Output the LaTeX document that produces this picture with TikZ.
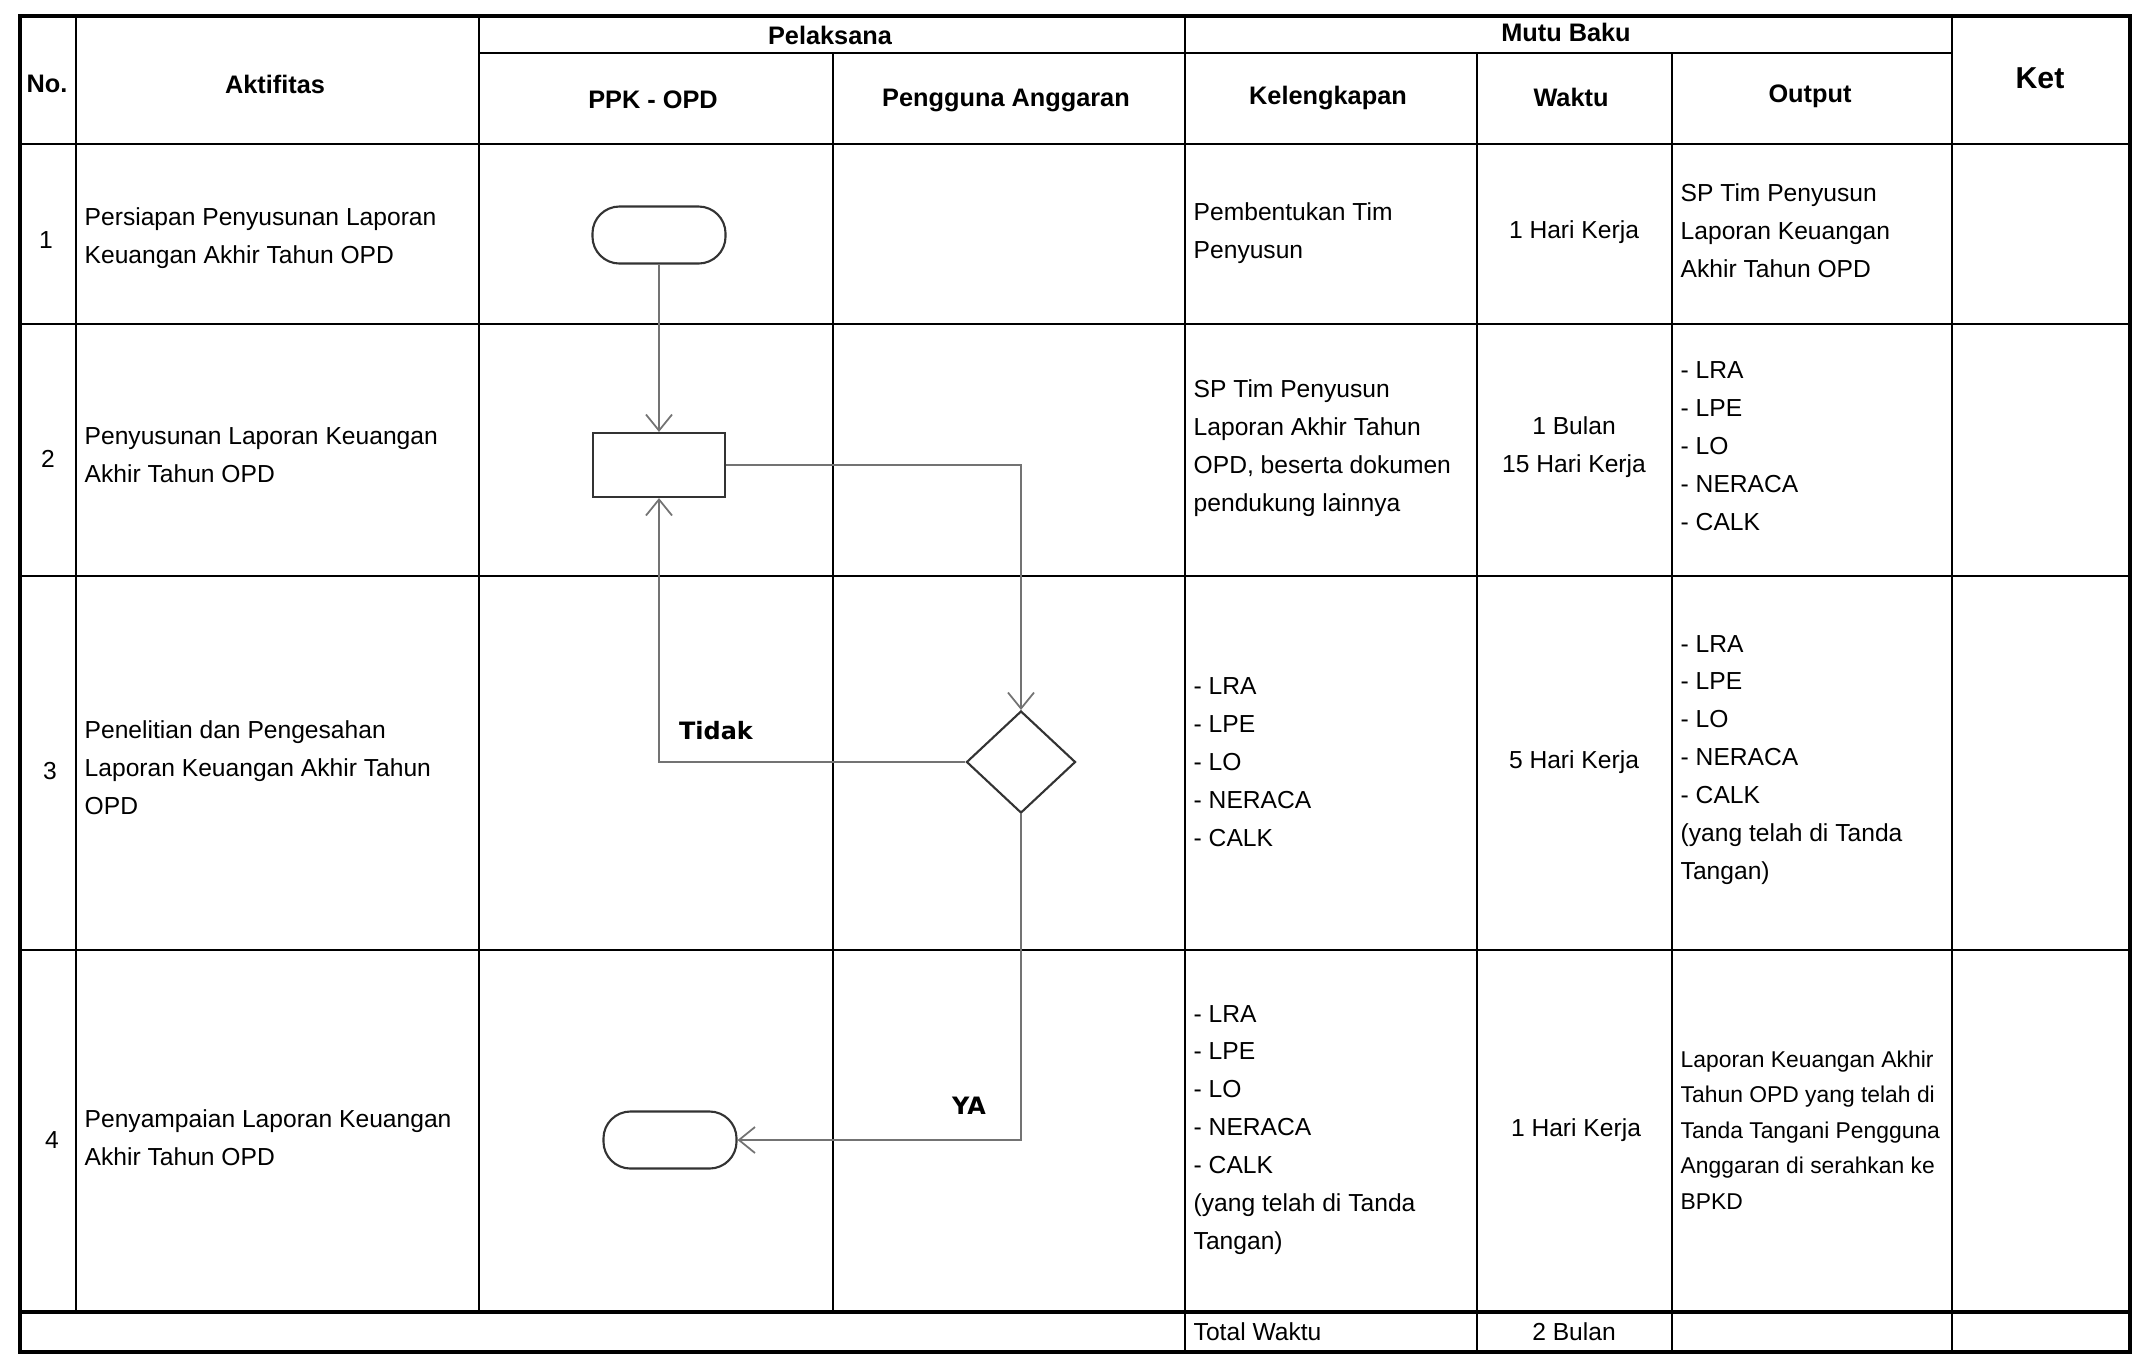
\documentclass[tikz,border=0pt]{standalone}
\usepackage{fontspec}
\setmainfont{Liberation Sans}
\newfontfamily\lblfont{DejaVu Sans}
\usetikzlibrary{shapes.geometric,arrows.meta}

\tikzset{
  grid/.style={line width=0.7pt},
  frame/.style={line width=1.4pt},
  head/.style={font=\fontsize{7.2}{9}\selectfont\bfseries},
  cell/.style={anchor=west,align=left,inner sep=0pt,font=\fontsize{7}{10.8}\selectfont},
  mid/.style={align=center,inner sep=0pt,font=\fontsize{7}{10.8}\selectfont},
  term/.style={draw=black!80,line width=0.6pt,rounded corners=2.7mm,minimum width=1.33cm,minimum height=0.57cm},
  proc/.style={draw=black!80,line width=0.6pt,minimum width=1.32cm,minimum height=0.64cm},
  decide/.style={draw=black!80,line width=0.6pt,diamond,minimum width=1.09cm,minimum height=1.02cm,inner sep=0pt},
  flow/.style={draw=black!55,line width=0.5pt,-{Straight Barb[length=1.6mm,width=2.6mm]}},
  answer/.style={inner sep=0pt,font=\lblfont\fontsize{6.8}{8}\selectfont\bfseries}
}

\begin{document}
\begin{tikzpicture}[x=0.01cm,y=-0.01cm]
\useasboundingbox (0,0) rectangle (2135,1356);
% table
\draw[grid] (479,53) -- (1952,53);
\foreach \y in {144,324,576,950}
  \draw[grid] (20,\y) -- (2130,\y);
\draw[frame] (20,1312) -- (2130,1312);
\draw[grid] (76,16) -- (76,1312);
\draw[grid] (479,16) -- (479,1312);
\draw[grid] (833,53) -- (833,1312);
\draw[grid] (1185,16) -- (1185,1352);
\draw[grid] (1477,53) -- (1477,1352);
\draw[grid] (1672,53) -- (1672,1352);
\draw[grid] (1952,16) -- (1952,1352);
\draw[frame] (20,16) rectangle (2130,1352);

\node[head] (hno) at (47,84) {No.};
\node[head] (hakt) at (275,84) {Aktifitas};
\node[head] (hpel) at (830,35) {Pelaksana};
\node[head] (hppk) at (653,100) {PPK - OPD};
\node[head] (hpa) at (1006,100) {Pengguna Anggaran};
\node[head] (hmutu) at (1566,32) {Mutu Baku};
\node[head] (hkel) at (1328,98) {Kelengkapan};
\node[head] (hwak) at (1571,97) {Waktu};
\node[head] (hout) at (1810,96) {Output};
\node[head,font=\fontsize{8.6}{10}\selectfont\bfseries] (hket) at (2040,78) {Ket};

% rows
\node[mid] (no1) at (46,240) {1};
\node[mid] (no2) at (48,459) {2};
\node[mid] (no3) at (50,771) {3};
\node[mid] (no4) at (52,1140) {4};

\node[cell] (akt1) at (84,238) {Persiapan Penyusunan Laporan\\Keuangan Akhir Tahun OPD};
\node[cell] (akt2) at (84,455) {Penyusunan Laporan Keuangan\\Akhir Tahun OPD};
\node[cell] (akt3) at (84,768) {Penelitian dan Pengesahan\\Laporan Keuangan Akhir Tahun\\OPD};
\node[cell] (akt4) at (84,1138) {Penyampaian Laporan Keuangan\\Akhir Tahun OPD};

\node[cell] (kel1) at (1193,233) {Pembentukan Tim\\Penyusun};
\node[cell] (kel2) at (1193,448) {SP Tim Penyusun\\Laporan Akhir Tahun\\OPD, beserta dokumen\\pendukung lainnya};
\node[cell] (kel3) at (1193,762) {- LRA\\- LPE\\- LO\\- NERACA\\- CALK};
\node[cell] (kel4) at (1193,1130) {- LRA\\- LPE\\- LO\\- NERACA\\- CALK\\(yang telah di Tanda\\Tangan)};

\node[mid] (wak1) at (1574,232) {1 Hari Kerja};
\node[mid] (wak2) at (1574,447) {1 Bulan\\15 Hari Kerja};
\node[mid] (wak3) at (1574,762) {5 Hari Kerja};
\node[mid] (wak4) at (1576,1130) {1 Hari Kerja};

\node[cell] (out1) at (1680,231) {SP Tim Penyusun\\Laporan Keuangan\\Akhir Tahun OPD};
\node[cell] (out2) at (1680,446) {- LRA\\- LPE\\- LO\\- NERACA\\- CALK};
\node[cell] (out3) at (1680,760) {- LRA\\- LPE\\- LO\\- NERACA\\- CALK\\(yang telah di Tanda\\Tangan)};
\node[cell,font=\fontsize{6.5}{10.1}\selectfont] (out4) at (1680,1130) {Laporan Keuangan Akhir\\Tahun OPD yang telah di\\Tanda Tangani Pengguna\\Anggaran di serahkan ke\\BPKD};

\node[cell] (total) at (1193,1332) {Total Waktu};
\node[mid] (totalw) at (1574,1332) {2 Bulan};

% flow
\node[term] (mulai) at (659,235) {};
\node[proc] (susun) at (659,465) {};
\node[decide] (cek) at (1021,762) {};
\node[term] (selesai) at (670,1140) {};
\draw[flow] (mulai) -- (susun);
\draw[flow] (susun.east) -| (cek.north);
\draw[flow] (cek.west) -| (susun.south);
\draw[flow] (cek.south) |- (selesai.east);
\node[answer] (tidak) at (716,731) {Tidak};
\node[answer] (ya) at (969,1106) {YA};
\end{tikzpicture}
\end{document}
